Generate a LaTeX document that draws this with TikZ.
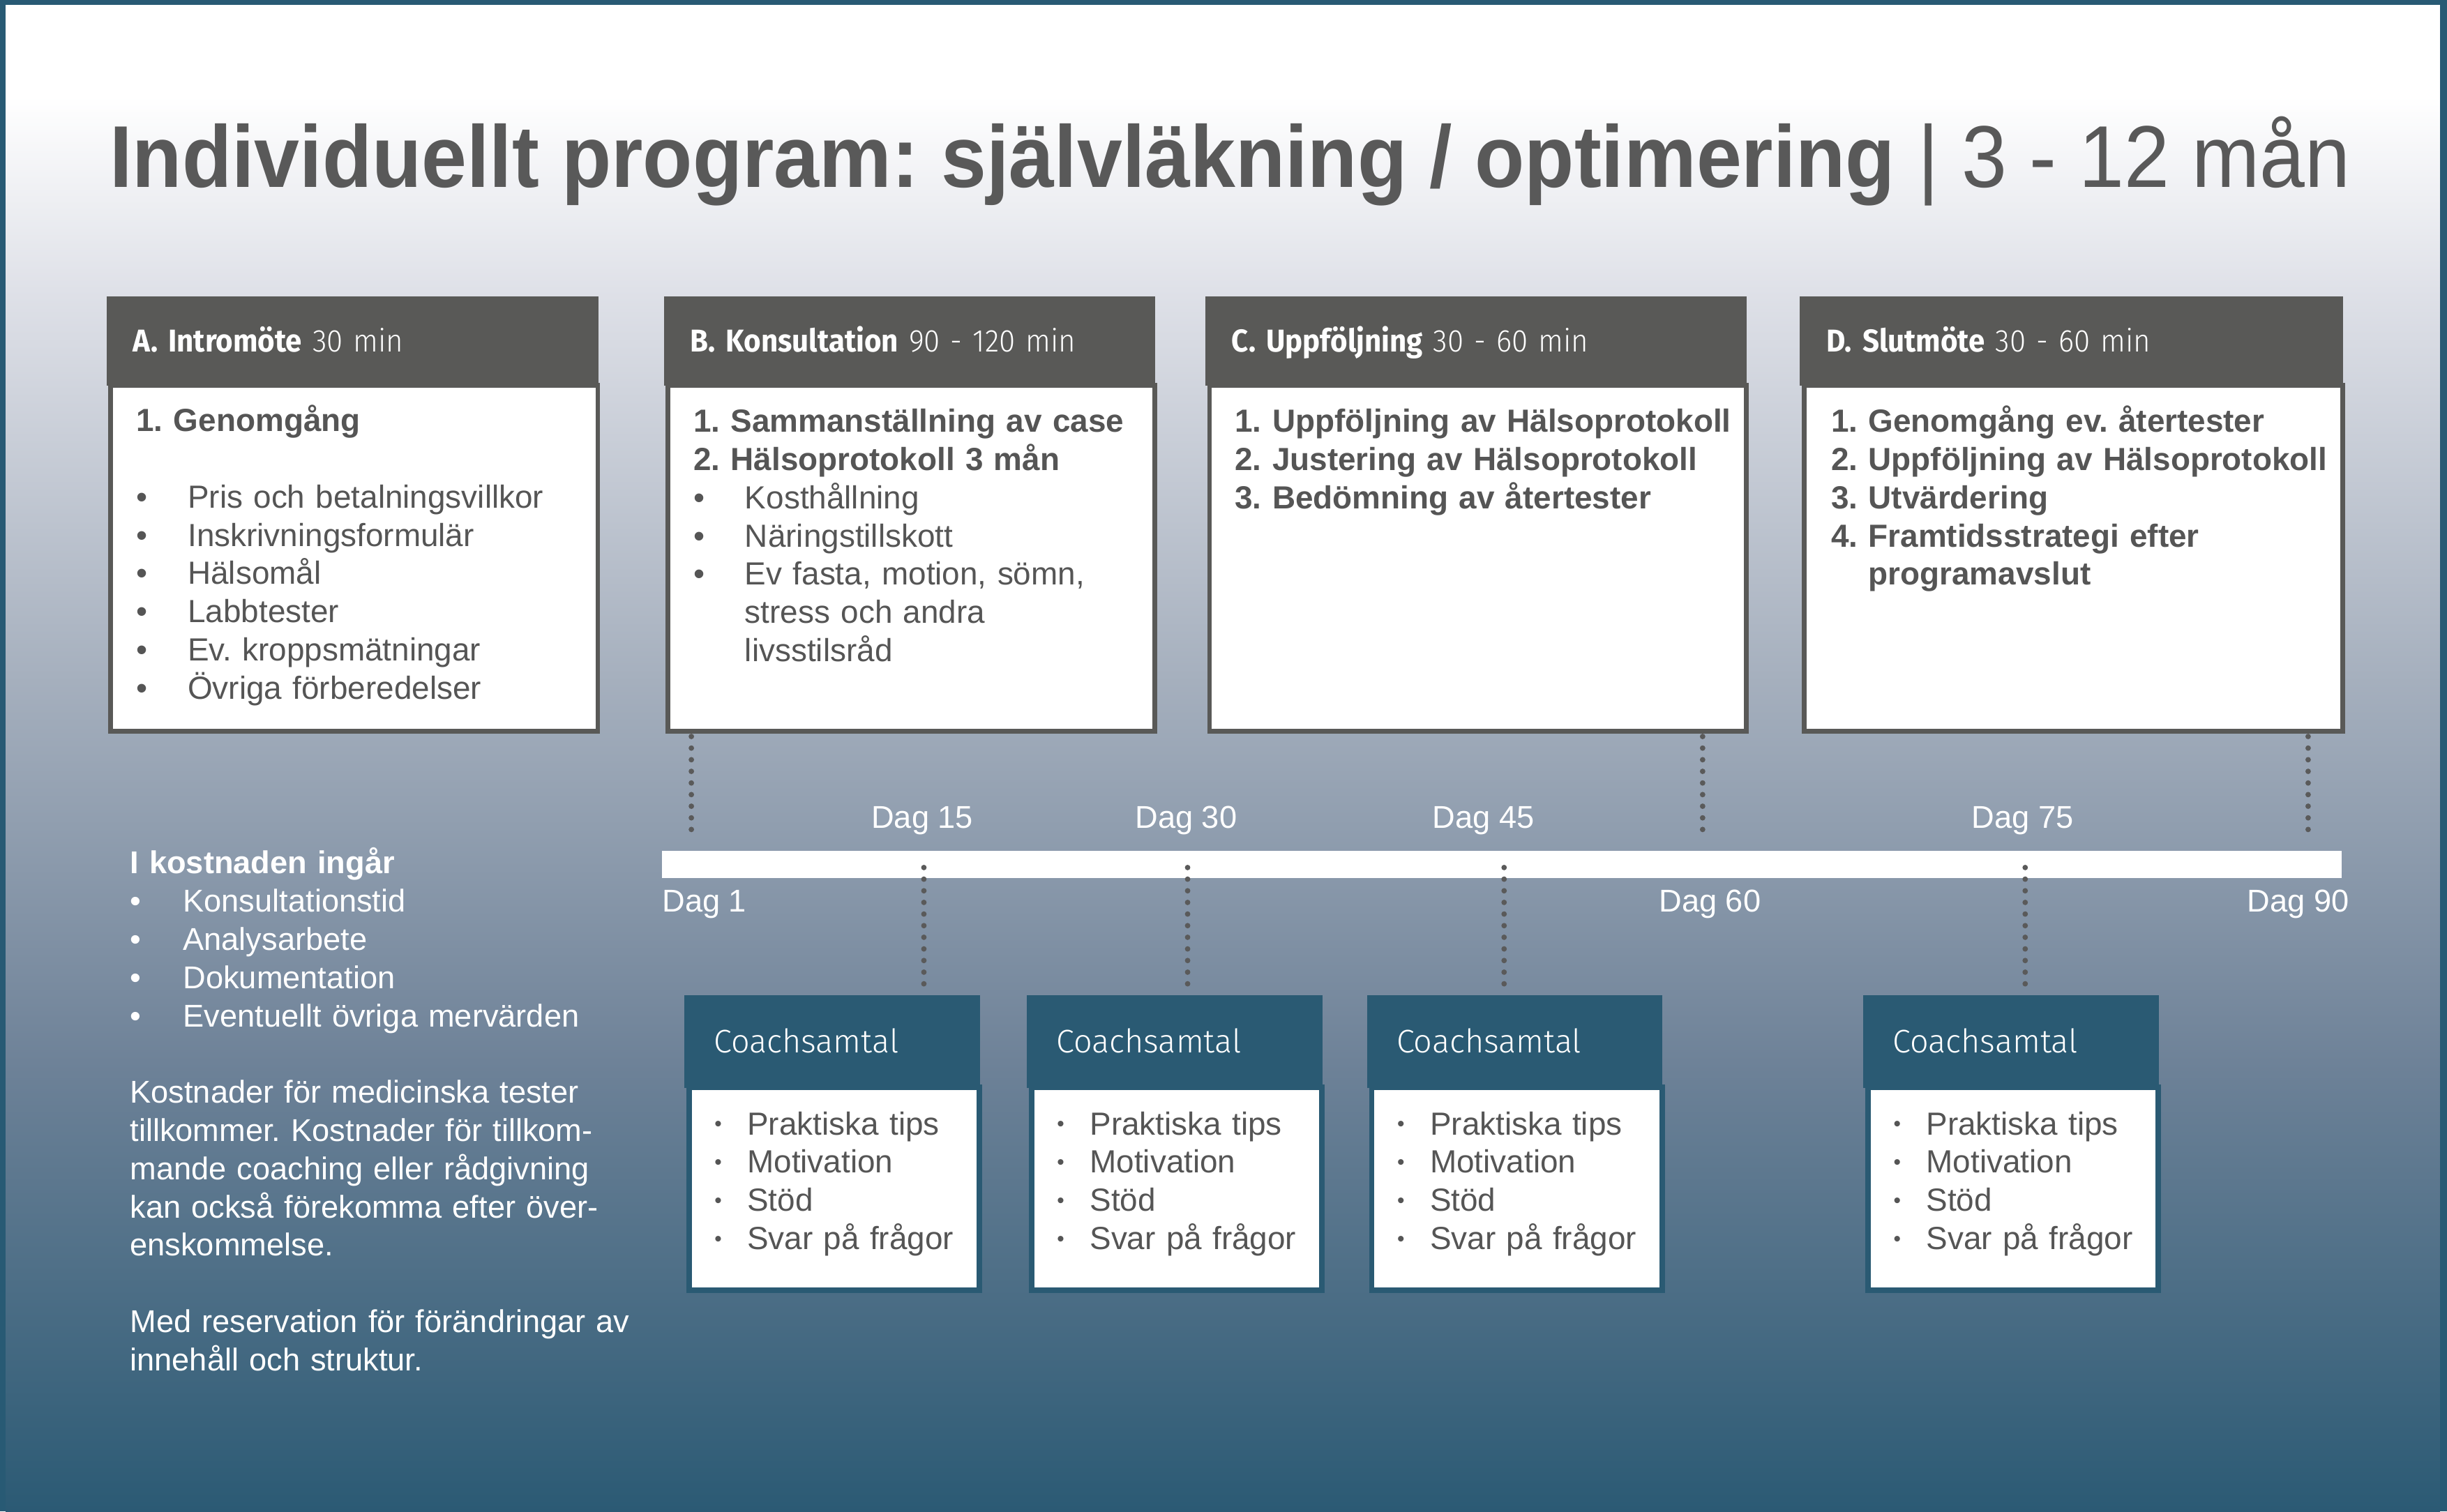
\documentclass[tikz,border=0pt]{standalone}
\usepackage{fontspec}
\usepackage{graphicx}
\setmainfont{Liberation Sans}
\newfontfamily\titlefont[FakeStretch=0.927]{Liberation Sans}
\newfontfamily\headfont[FakeStretch=0.93]{Fira Sans}
\newfontfamily\headlight[FakeStretch=0.93, WordSpace=0.8]{Fira Sans Light}
\newfontfamily\coachfont{Fira Sans Light}
\usetikzlibrary{positioning}
\frenchspacing
\definecolor{framecol}{HTML}{285A74}
\definecolor{hdgrey}{HTML}{595957}
\definecolor{coachblue}{HTML}{2A5A73}
\definecolor{txtgrey}{HTML}{555555}
\definecolor{dotgrey}{HTML}{5A5A5A}
\definecolor{titlegrey}{HTML}{595959}
\definecolor{bgA}{HTML}{DFE1E8}
\definecolor{bgB}{HTML}{A6B0BE}
\definecolor{bgC}{HTML}{6E8298}
\definecolor{bgD}{HTML}{2B5A74}
\newcommand{\bul}[1]{\makebox[6.6mm][l]{\textbullet}#1} % bullet in the top boxes
\newcommand{\lbul}[1]{\makebox[6.8mm][l]{\textbullet}#1} % bullet in the left text
\newcommand{\cbul}[1]{\makebox[4.2mm][l]{\raisebox{0.12em}{\scalebox{0.65}{\textbullet}}}#1} % small bullet, coach boxes

\begin{document}
\begin{tikzpicture}[x=0.2mm, y=-0.2mm,
    hdbox/.style={fill=hdgrey, text=white, anchor=north west, inner xsep=3.4mm, inner ysep=0pt,
        minimum height=11.5mm, text height=2.75mm, text depth=0pt, align=left,
        font=\headfont\fontsize{11.5}{14}\selectfont},
    bodybox/.style={fill=white, draw=hdgrey, line width=0.6mm, anchor=north west,
        minimum height=44.3mm, inner sep=0pt},
    bodytxt/.style={anchor=base west, inner sep=0pt, align=left, text width=68mm,
        text=txtgrey, font=\fontsize{11.67}{13.94}\selectfont},
    coachhd/.style={fill=coachblue, text=white, anchor=north west, inner xsep=3.8mm, inner ysep=0pt,
        text width=30.3mm, minimum height=11.9mm, text height=2.85mm, text depth=0pt, align=left,
        font=\coachfont\fontsize{11.9}{14}\selectfont},
    coachbody/.style={fill=white, draw=coachblue, line width=0.7mm, anchor=north west,
        minimum width=37.2mm, minimum height=26mm, inner sep=0pt},
    daglbl/.style={text=white, inner sep=0pt, anchor=base, font=\fontsize{11.5}{13}\selectfont},
    dotline/.style={draw=dotgrey, line width=0.7mm, line cap=round, dash pattern=on 0pt off 1.49mm}
]
    \useasboundingbox (0,0) rectangle (1568,968.6);

    % Frame and background
    \fill[framecol] (0,0) rectangle (1568,968.6);
    \fill[white] (3.6,3) rectangle (1563.5,62);
    \shade[top color=white, bottom color=bgA] (3.6,61.5) rectangle (1563.5,185.5);
    \shade[top color=bgA, bottom color=bgB] (3.6,185) rectangle (1563.5,432.5);
    \shade[top color=bgB, bottom color=bgC] (3.6,432) rectangle (1563.5,680.5);
    \shade[top color=bgC, bottom color=bgD] (3.6,680) rectangle (1563.5,968.6);

    % Title
    \node[anchor=base west, inner sep=0pt, text=titlegrey, font=\titlefont\fontsize{32}{38}\selectfont] (title) at (70,120)
        {\textbf{Individuellt program: självläkning / optimering} | 3 - 12 mån};

    % Top boxes
    \node[hdbox, text width=56.2mm] (hA) at (68,189.5) {{\bfseries A. Intromöte} {\headlight 30 min}};
    \node[bodybox, minimum width=62.4mm] (bA) at (69.5,245.5) {};
    \node[hdbox, text width=56.2mm] (hB) at (425,189.5) {{\bfseries B. Konsultation} {\headlight 90 - 120 min}};
    \node[bodybox, minimum width=62.4mm] (bB) at (426.5,245.5) {};
    \node[hdbox, text width=62.6mm] (hC) at (772,189.5) {{\bfseries C. Uppföljning} {\headlight 30 - 60 min}};
    \node[bodybox, minimum width=68.8mm] (bC) at (773.5,245.5) {};
    \node[hdbox, text width=62.8mm] (hD) at (1153,189.5) {{\bfseries D. Slutmöte} {\headlight 30 - 60 min}};
    \node[bodybox, minimum width=69mm] (bD) at (1154.5,245.5) {};

    \node[bodytxt] (tA) at (87,276.5) {\textbf{1. Genomgång}\\[4.9mm]
        \bul{Pris och betalningsvillkor}\\
        \bul{Inskrivningsformulär}\\
        \bul{Hälsomål}\\
        \bul{Labbtester}\\
        \bul{Ev. kroppsmätningar}\\
        \bul{Övriga förberedelser}};
    \node[bodytxt] (tB) at (444,277) {\textbf{1. Sammanställning av case}\\
        \textbf{2. Hälsoprotokoll 3 mån}\\
        \bul{Kosthållning}\\
        \bul{Näringstillskott}\\
        \bul{Ev fasta, motion, sömn,}\\
        \hspace*{6.6mm}stress och andra\\
        \hspace*{6.6mm}livsstilsråd};
    \node[bodytxt] (tC) at (791,277) {\textbf{1. Uppföljning av Hälsoprotokoll}\\
        \textbf{2. Justering av Hälsoprotokoll}\\
        \textbf{3. Bedömning av återtester}};
    \node[bodytxt] (tD) at (1173,277) {\textbf{1. Genomgång ev. återtester}\\
        \textbf{2. Uppföljning av Hälsoprotokoll}\\
        \textbf{3. Utvärdering}\\
        \textbf{4. Framtidsstrategi efter}\\
        \textbf{\hphantom{4.\ }programavslut}};

    % Left text
    \node[bodytxt, text=white, font=\fontsize{11.5}{13.94}\selectfont] (info) at (83,560) {\textbf{I kostnaden ingår}\\
        \lbul{Konsultationstid}\\
        \lbul{Analysarbete}\\
        \lbul{Dokumentation}\\
        \lbul{Eventuellt övriga mervärden}\\[4.9mm]
        Kostnader för medicinska tester\\
        tillkommer. Kostnader för tillkom-\\
        mande coaching eller rådgivning\\
        kan också förekomma efter över-\\
        enskommelse.\\[4.9mm]
        Med reservation för förändringar av\\
        innehåll och struktur.};

    % Timeline
    \node[fill=white, anchor=north west, minimum width=215.2mm, minimum height=3.5mm, inner sep=0pt] (bar) at (424,545) {};
    \coordinate (m1) at (443,538);
    \coordinate (m60) at (1091,538);
    \coordinate (m90) at (1479,538);
    \coordinate (m15) at (592,556);
    \coordinate (m30) at (761,556);
    \coordinate (m45) at (963.8,556);
    \coordinate (m75) at (1297.7,556);

    \node[daglbl] (d15) at (591,531) {Dag 15};
    \node[daglbl] (d30) at (760,531) {Dag 30};
    \node[daglbl] (d45) at (950.6,531) {Dag 45};
    \node[daglbl] (d75) at (1296,531) {Dag 75};
    \node[daglbl, anchor=base west] (d1) at (424,584.2) {Dag 1};
    \node[daglbl] (d60) at (1095.7,584.2) {Dag 60};
    \node[daglbl, anchor=base east] (d90) at (1505.6,584.2) {Dag 90};

    % Coach boxes
    \foreach \cx/\nm in {438/c1, 657.5/c2, 875.5/c3, 1193.5/c4}{
        \node[coachhd] (\nm) at (\cx,637.5) {Coachsamtal};
        \node[coachbody] (\nm-body) at (\cx+1.75,695.25) {};
        \node[bodytxt, text width=34mm] (\nm-txt) at (\cx+19.5,727.3) {\cbul{Praktiska tips}\\
            \cbul{Motivation}\\
            \cbul{Stöd}\\
            \cbul{Svar på frågor}};
    }

    % Dotted connectors
    \draw[dotline, shorten <=0.4mm] (bB.south -| m1) -- (m1);
    \draw[dotline, shorten <=0.4mm] (bC.south -| m60) -- (m60);
    \draw[dotline, shorten <=0.4mm] (bD.south -| m90) -- (m90);
    \draw[dotline, shorten >=0.5mm] (m15) -- (m15 |- c1.north);
    \draw[dotline, shorten >=0.5mm] (m30) -- (m30 |- c2.north);
    \draw[dotline, shorten >=0.5mm] (m45) -- (m45 |- c3.north);
    \draw[dotline, shorten >=0.5mm] (m75) -- (m75 |- c4.north);
\end{tikzpicture}
\end{document}
